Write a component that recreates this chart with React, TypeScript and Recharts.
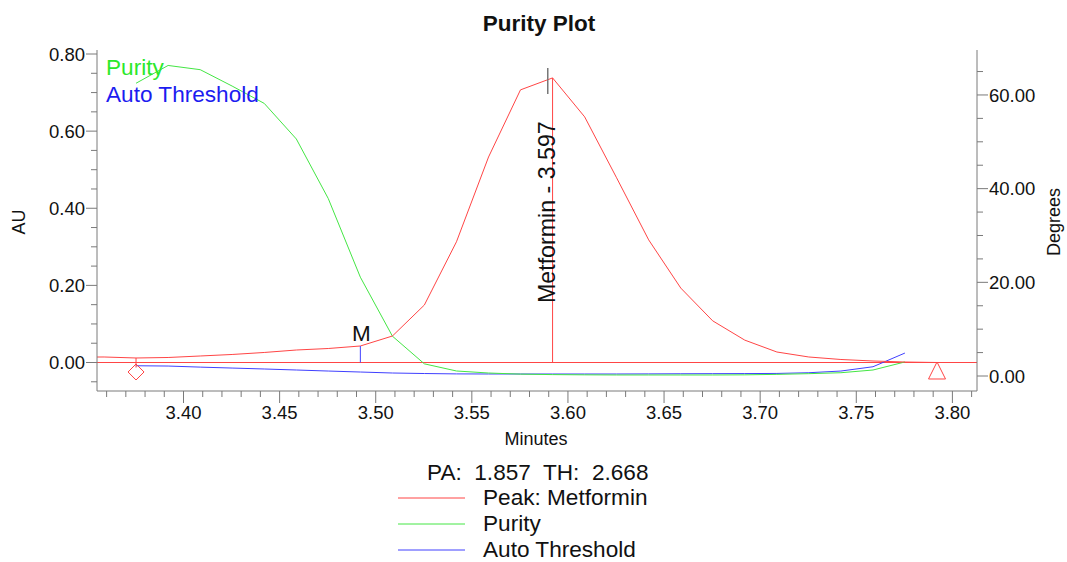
import React from "react";
import { ComposedChart, Line, XAxis, YAxis, ReferenceLine, ReferenceDot } from "recharts";

// sample times (minutes), one point per second
const TIME = [
  3.342, 3.3587, 3.3753, 3.392, 3.4087, 3.4253, 3.442, 3.4587, 3.4753, 3.492, 3.5087, 3.5253, 3.542, 3.5587,
  3.5753, 3.592, 3.6087, 3.6253, 3.642, 3.6587, 3.6753, 3.692, 3.7087, 3.7253, 3.742, 3.7587, 3.7753, 3.792,
  3.8087,
];
// peak signal (AU, left axis)
const PEAK_AU = [
  0.014, 0.0143, 0.0117, 0.013, 0.0169, 0.0208, 0.026, 0.0324, 0.0363, 0.0428, 0.0687, 0.149, 0.313, 0.533,
  0.707, 0.738, 0.637, 0.479, 0.318, 0.193, 0.108, 0.058, 0.0272, 0.0143, 0.0078, 0.0039, 0.0013, 0, 0,
];
// purity angle (degrees, right axis)
const PURITY_DEG = [
  null, null, 62.5, 66.3, 65.4, 61.9, 58.2, 50.6, 37.9, 21.1, 8.5, 2.6, 1.07, 0.64, 0.4, 0.3, 0.25, 0.22,
  0.22, 0.22, 0.22, 0.25, 0.35, 0.5, 0.7, 1.28, 3.0, null, null,
];
// auto threshold (degrees, right axis)
const THRESHOLD_DEG = [
  null, null, 2.19, 2.13, 1.9, 1.7, 1.5, 1.28, 1.06, 0.85, 0.64, 0.53, 0.45, 0.43, 0.43, 0.43, 0.43, 0.43,
  0.45, 0.48, 0.5, 0.52, 0.55, 0.7, 1.06, 1.98, 4.9, null, null,
];

const X_MAJOR = [3.4, 3.45, 3.5, 3.55, 3.6, 3.65, 3.7, 3.75, 3.8];
const AU_MAJOR = [0, 0.2, 0.4, 0.6, 0.8];
const DEG_MAJOR = [0, 20, 40, 60];

// peak annotations
const PEAK_APEX = 3.592;
const PEAK_APEX_AU = 0.738;
const PEAK_LABEL = "Metformin - 3.597";
const PEAK_START = 3.3753;
const PEAK_END = 3.792;
const M_TIME = 3.492;
const M_AU = 0.0428;

const X_DOMAIN: [number, number] = [3.355, 3.8128];
const AU_DOMAIN: [number, number] = [-0.0739, 0.8104];
const DEG_DOMAIN: [number, number] = [-3.2, 69.6];

const RED = "#ff4545";
const GREEN = "#44e644";
const BLUE = "#4040ff";
const AXIS = "#7a7a7a";
const FONT = '"Liberation Sans", Arial, sans-serif';
const TICK_FS = 18.5;
const TEXT_FS = 22.6;

const stepTicks = (from: number, to: number, step: number) => {
  const out: number[] = [];
  for (let v = from; v <= to + step / 1000; v += step) out.push(Math.round(v / step) * step);
  return out.map((v) => +v.toFixed(6));
};
const X_TICKS = stepTicks(3.36, 3.81, 0.01);
const AU_TICKS = stepTicks(-0.05, 0.8, 0.05);
const DEG_TICKS = stepTicks(0, 65, 5);

const isMajor = (v: number, majors: number[]) => majors.some((m) => Math.abs(m - v) < 1e-6);

const data = TIME.map((t, i) => ({
  t,
  peak: PEAK_AU[i],
  purity: PURITY_DEG[i],
  threshold: THRESHOLD_DEG[i],
}));

const LeftTick = (props: any) => {
  const { x, y, payload } = props;
  const major = isMajor(payload.value, AU_MAJOR);
  return (
    <g>
      <line x1={x} x2={x - (major ? 11 : 6)} y1={y} y2={y} stroke={AXIS} />
      {major && (
        <text x={x - 12} y={y + 6.6} textAnchor="end" fontSize={TICK_FS} fill="#111" fontFamily={FONT}>
          {payload.value.toFixed(2)}
        </text>
      )}
    </g>
  );
};

const RightTick = (props: any) => {
  const { x, y, payload } = props;
  const major = isMajor(payload.value, DEG_MAJOR);
  return (
    <g>
      <line x1={x} x2={x + (major ? 11 : 6)} y1={y} y2={y} stroke={AXIS} />
      {major && (
        <text x={x + 12} y={y + 6.6} textAnchor="start" fontSize={TICK_FS} fill="#111" fontFamily={FONT}>
          {payload.value.toFixed(2)}
        </text>
      )}
    </g>
  );
};

const BottomTick = (props: any) => {
  const { x, y, payload } = props;
  const major = isMajor(payload.value, X_MAJOR);
  return (
    <g>
      <line x1={x} x2={x} y1={y} y2={y + (major ? 12 : 6)} stroke={AXIS} />
      {major && (
        <text x={x} y={y + 28} textAnchor="middle" fontSize={TICK_FS} fill="#111" fontFamily={FONT}>
          {payload.value.toFixed(2)}
        </text>
      )}
    </g>
  );
};

const Diamond = ({ cx, cy }: any) => (
  <path d={`M${cx},${cy - 8} L${cx + 8},${cy} L${cx},${cy + 8} L${cx - 8},${cy} Z`} fill="none" stroke={RED} />
);

const Triangle = ({ cx, cy }: any) => (
  <path d={`M${cx},${cy - 9} L${cx + 8.5},${cy + 8} L${cx - 8.5},${cy + 8} Z`} fill="none" stroke={RED} />
);

const MLabel = ({ cx, cy }: any) => (
  <text x={cx + 1} y={cy - 5} textAnchor="middle" fontSize={22.5} fill="#111" fontFamily={FONT}>
    M
  </text>
);

const PeakLabel = ({ cx, cy }: any) => (
  <text
    x={cx + 2}
    y={cy}
    transform={`rotate(-90 ${cx + 2} ${cy})`}
    textAnchor="middle"
    fontSize={23.2}
    fill="#111"
    fontFamily={FONT}
  >
    {PEAK_LABEL}
  </text>
);

const LEGEND = [
  { label: "Peak: Metformin", color: RED },
  { label: "Purity", color: GREEN },
  { label: "Auto Threshold", color: BLUE },
];

export default function App() {
  return (
    <div style={{ position: "absolute", left: 0, top: 0, width: 1067, height: 562, background: "#fff" }}>
      <ComposedChart width={1067} height={562} data={data} margin={{ top: 50, right: 0, bottom: 111, left: 0 }}>
        <XAxis
          dataKey="t"
          type="number"
          domain={X_DOMAIN}
          allowDataOverflow
          ticks={X_TICKS}
          interval={0}
          tick={<BottomTick />}
          tickLine={false}
          tickSize={0}
          tickMargin={0}
          axisLine={{ stroke: AXIS }}
          height={60}
        />
        <XAxis
          xAxisId="top"
          orientation="top"
          dataKey="t"
          type="number"
          domain={X_DOMAIN}
          allowDataOverflow
          tick={false}
          tickLine={false}
          axisLine={{ stroke: AXIS }}
          height={0}
        />
        <YAxis
          yAxisId="au"
          type="number"
          domain={AU_DOMAIN}
          allowDataOverflow
          ticks={AU_TICKS}
          interval={0}
          tick={<LeftTick />}
          tickLine={false}
          tickSize={0}
          tickMargin={0}
          axisLine={{ stroke: AXIS }}
          width={97}
        />
        <YAxis
          yAxisId="deg"
          orientation="right"
          type="number"
          domain={DEG_DOMAIN}
          allowDataOverflow
          ticks={DEG_TICKS}
          interval={0}
          tick={<RightTick />}
          tickLine={false}
          tickSize={0}
          tickMargin={0}
          axisLine={{ stroke: AXIS }}
          width={90}
        />

        <ReferenceLine yAxisId="au" y={0} stroke={RED} />
        <Line yAxisId="deg" dataKey="threshold" type="linear" stroke={BLUE} strokeWidth={1} dot={false} isAnimationActive={false} />
        <Line yAxisId="deg" dataKey="purity" type="linear" stroke={GREEN} strokeWidth={1} dot={false} isAnimationActive={false} />
        <Line yAxisId="au" dataKey="peak" type="linear" stroke={RED} strokeWidth={1} dot={false} isAnimationActive={false} />

        <ReferenceLine
          yAxisId="au"
          segment={[{ x: PEAK_APEX, y: 0 }, { x: PEAK_APEX, y: PEAK_APEX_AU }]}
          stroke={RED}
        />
        <ReferenceLine
          yAxisId="au"
          segment={[{ x: PEAK_APEX - 0.0025, y: 0.696 }, { x: PEAK_APEX - 0.0025, y: 0.764 }]}
          stroke="#777"
          strokeWidth={1.5}
        />
        <ReferenceLine yAxisId="au" segment={[{ x: M_TIME, y: 0 }, { x: M_TIME, y: M_AU }]} stroke={BLUE} />
        <ReferenceLine yAxisId="au" segment={[{ x: PEAK_START, y: 0.0117 }, { x: PEAK_START, y: -0.013 }]} stroke={RED} />
        <ReferenceDot yAxisId="au" x={PEAK_START} y={-0.0246} shape={<Diamond />} />
        <ReferenceDot yAxisId="au" x={PEAK_END} y={-0.022} shape={<Triangle />} />
        <ReferenceDot yAxisId="au" x={M_TIME} y={M_AU} shape={<MLabel />} />
        <ReferenceDot yAxisId="au" x={PEAK_APEX} y={0.39} shape={<PeakLabel />} />
      </ComposedChart>

      <svg
        width={1067}
        height={562}
        style={{ position: "absolute", left: 0, top: 0, pointerEvents: "none" }}
        fontFamily={FONT}
      >
        <text x={539} y={31} textAnchor="middle" fontSize={22.5} fontWeight="bold" fill="#111">
          Purity Plot
        </text>
        <text x={25} y={222} transform="rotate(-90 25 222)" textAnchor="middle" fontSize={18} fill="#111">
          AU
        </text>
        <text x={1060} y={222} transform="rotate(-90 1060 222)" textAnchor="middle" fontSize={18} fill="#111">
          Degrees
        </text>
        <text x={536} y={445} textAnchor="middle" fontSize={18} fill="#111">
          Minutes
        </text>

        <text x={106} y={75} fontSize={TEXT_FS} fill="#2be82b">
          Purity
        </text>
        <text x={106} y={102} fontSize={TEXT_FS} fill="#1c1cf0">
          Auto Threshold
        </text>

        <text x={427} y={480} fontSize={TEXT_FS} fill="#111" style={{ whiteSpace: "pre" }}>
          {"PA:  1.857  TH:  2.668"}
        </text>
        {LEGEND.map((item, i) => (
          <g key={item.label}>
            <line x1={398} x2={465} y1={498 + i * 26} y2={498 + i * 26} stroke={item.color} />
            <text x={483} y={505 + i * 26} fontSize={TEXT_FS} fill="#111">
              {item.label}
            </text>
          </g>
        ))}
      </svg>
    </div>
  );
}
